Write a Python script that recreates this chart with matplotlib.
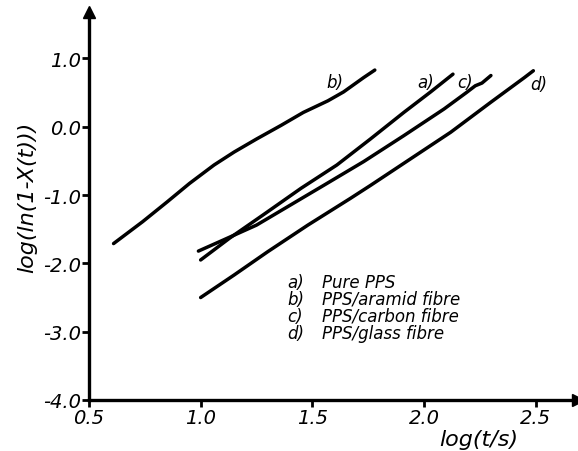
import matplotlib.pyplot as plt

# curves: log(t/s) and log(ln(1-X(t)))
a_x = [1.00, 1.13, 1.28, 1.45, 1.61, 1.76, 1.91, 2.03, 2.13]
a_y = [-1.95, -1.63, -1.29, -0.90, -0.56, -0.18, 0.21, 0.51, 0.77]
b_x = [0.61, 0.74, 0.85, 0.95, 1.06, 1.15, 1.25, 1.36, 1.46, 1.57, 1.64, 1.73, 1.78]
b_y = [-1.71, -1.39, -1.10, -0.83, -0.56, -0.37, -0.18, 0.02, 0.21, 0.38, 0.51, 0.72, 0.83]
c_x = [0.99, 1.10, 1.25, 1.40, 1.55, 1.73, 1.91, 2.09, 2.19, 2.23, 2.26, 2.30]
c_y = [-1.82, -1.66, -1.44, -1.15, -0.86, -0.51, -0.13, 0.26, 0.50, 0.60, 0.64, 0.75]
d_x = [1.00, 1.15, 1.30, 1.48, 1.67, 1.76, 1.94, 2.12, 2.30, 2.45, 2.49]
d_y = [-2.50, -2.17, -1.83, -1.44, -1.05, -0.86, -0.47, -0.08, 0.36, 0.72, 0.82]

curve_tags = ["a)", "b)", "c)", "d)"]
legend_names = ["Pure PPS", "PPS/aramid fibre", "PPS/carbon fibre", "PPS/glass fibre"]
x_ticks = [0.5, 1.0, 1.5, 2.0, 2.5]
y_ticks = [1.0, 0.0, -1.0, -2.0, -3.0, -4.0]

plt.rcParams['font.family'] = ['DejaVu Sans']

fig = plt.figure(figsize=(5.78, 4.52), dpi=100)
ax = fig.add_axes([89 / 578, 1 - 401 / 452, 1 - 89 / 578, (401 - 13) / 452])

for xs, ys in [(a_x, a_y), (b_x, b_y), (c_x, c_y), (d_x, d_y)]:
    ax.plot(xs, ys, color="black", lw=2.5, solid_capstyle="round",
            solid_joinstyle="round")

ax.set_xlim(0.5, 2.69)
ax.set_ylim(-4.0, 1.68)

for s in ["top", "right"]:
    ax.spines[s].set_visible(False)
for s in ["left", "bottom"]:
    ax.spines[s].set_linewidth(2.4)

# arrow heads at the axis ends
ax.plot(0, 1, "^k", ms=9, transform=ax.transAxes, clip_on=False)
ax.plot(1, 0, ">k", ms=9, transform=ax.transAxes, clip_on=False)

ax.set_xticks(x_ticks)
ax.set_xticklabels([f"{v:.1f}" for v in x_ticks], fontsize=14, style="italic")
ax.set_yticks(y_ticks)
ax.set_yticklabels([f"{v:.1f}" for v in y_ticks], fontsize=14, style="italic")
ax.tick_params(direction="out", length=5, width=2, pad=1)

# curve tags
tag_pos = [(2.01, 0.66), (1.60, 0.66), (2.185, 0.66), (2.515, 0.62)]
for t, (tx, ty) in zip(curve_tags, tag_pos):
    ax.text(tx, ty, t, fontsize=12, style="italic", ha="center", va="center")

# legend block
for i, (t, name) in enumerate(zip(curve_tags, legend_names)):
    yy = -2.27 - i * 0.25
    ax.text(1.39, yy, t, fontsize=12, style="italic", va="center")
    ax.text(1.545, yy, name, fontsize=12, style="italic", va="center")

fig.text(479 / 578, 1 - 440 / 452, "log(t/s)", fontsize=16, style="italic",
         ha="center", va="center")
fig.text(27 / 578, 1 - 197 / 452, "log(ln(1-X(t)))", fontsize=16, style="italic",
         ha="center", va="center", rotation=90)

fig.savefig("out.png", dpi=100)
